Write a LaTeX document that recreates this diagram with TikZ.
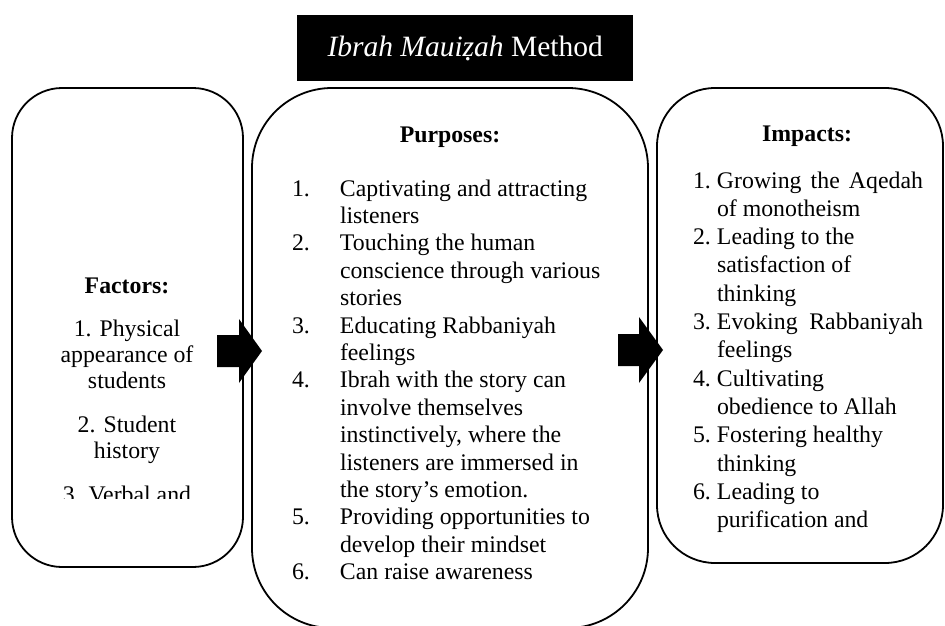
\documentclass[tikz,border=0pt]{standalone}
\usepackage{fontspec}
\setmainfont{Liberation Serif}
\usepackage{array}
\newcommand\myBody{\fontsize{23.8}{27.4}\selectfont}
\newcommand\myLeft{\fontsize{23.8}{26}\selectfont}
\newcommand\myRight{\fontsize{23.8}{28.3}\selectfont}
\newcommand\zdot{\ooalign{z\cr\hidewidth\raisebox{-0.13em}{.}\hidewidth\cr}}
\begin{document}
\begin{tikzpicture}[x=1pt,y=-1pt,
  box/.style={draw, line width=1.8pt, inner sep=0pt, outer sep=0pt, anchor=north west},
  txt/.style={inner sep=0pt, outer sep=0pt},
  blockarrow/.style={fill=black}]
\useasboundingbox (0,0) rectangle (945,626);
% title
\node[fill=black, text=white, minimum width=336pt, minimum height=66pt, inner sep=0pt, anchor=north west] (title) at (297,15)
  {\fontsize{29.5}{33}\selectfont\textit{Ibrah Maui\zdot ah} Method};
% boxes
\node[box, rounded corners=50pt, minimum width=231pt, minimum height=479pt] (factors) at (12,88) {};
\node[box, rounded corners=80pt, minimum width=396pt, minimum height=540pt] (purposes) at (252,88) {};
\node[box, rounded corners=58pt, minimum width=286pt, minimum height=475pt] (impacts) at (657,88) {};
% factors text
\node[txt, anchor=base] (facthead) at (127,293) {\myBody\bfseries Factors:};
\begin{scope}
\clip (12,88) rectangle (243,498.5);
\node[txt, anchor=base] (factlist) at (127,336) {\myLeft\begin{tabular}[t]{@{}c@{}}
1. Physical\\ appearance of\\ students\\[18pt]
2. Student\\ history\\[18pt]
3. Verbal and
\end{tabular}};
\end{scope}
% purposes text
\node[txt, anchor=base] (purphead) at (450,142) {\myBody\bfseries Purposes:};
\node[txt, anchor=base west] (purplist) at (292,196) {\myBody\begin{tabular}[t]{@{}p{48pt}@{}l@{}}
1. & Captivating and attracting\\
   & listeners\\
2. & Touching the human\\
   & conscience through various\\
   & stories\\
3. & Educating Rabbaniyah\\
   & feelings\\
4. & Ibrah with the story can\\
   & involve themselves\\
   & instinctively, where the\\
   & listeners are immersed in\\
   & the story's emotion.\\
5. & Providing opportunities to\\
   & develop their mindset\\
6. & Can raise awareness
\end{tabular}};
% impacts text
\node[txt, anchor=base] (imphead) at (807,141) {\myBody\bfseries Impacts:};
\node[txt, anchor=base west] (implist) at (693,188) {\myRight\begin{tabular}[t]{@{}p{24pt}@{}l@{}}
1. & \makebox[206pt][s]{Growing the Aqedah}\\
   & of monotheism\\
2. & Leading to the\\
   & satisfaction of\\
   & thinking\\
3. & \makebox[206pt][s]{Evoking Rabbaniyah}\\
   & feelings\\
4. & Cultivating\\
   & obedience to Allah\\
5. & Fostering healthy\\
   & thinking\\
6. & Leading to\\
   & purification and
\end{tabular}};
% block arrows
\fill[blockarrow] (217,335) -- (239,335) -- (239,319) -- (262,351) -- (239,383) -- (239,367) -- (217,367) -- cycle;
\fill[blockarrow] (618,334) -- (639,334) -- (639,317) -- (663,350) -- (639,383) -- (639,366) -- (618,366) -- cycle;
\end{tikzpicture}
\end{document}
